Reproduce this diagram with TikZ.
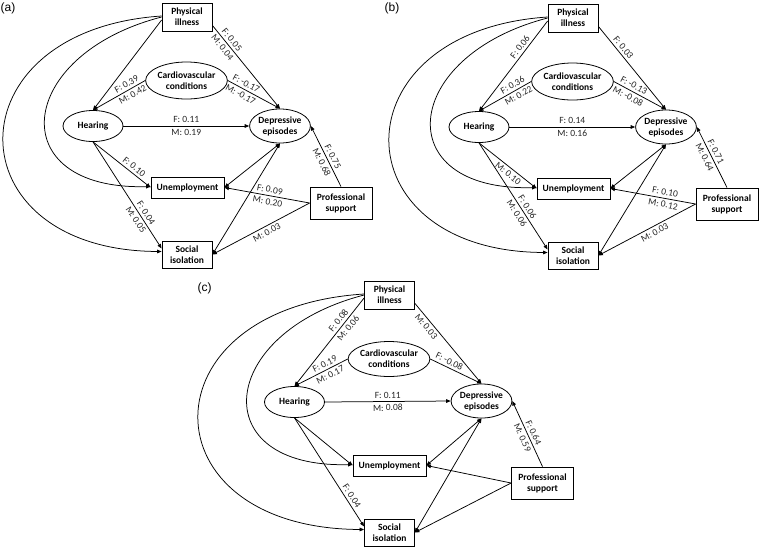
\documentclass[tikz,border=0pt]{standalone}
\usepackage{fontspec}
\setmainfont{Carlito}
\newfontfamily\panelfont{Liberation Sans}
\usetikzlibrary{arrows.meta,shapes.geometric}
\tikzset{
  box/.style={draw, line width=0.8pt, rectangle, inner sep=0pt, align=center,
    font=\fontsize{9.5}{11}\selectfont\bfseries},
  ell/.style={draw, line width=0.8pt, ellipse, inner sep=0pt, align=center,
    font=\fontsize{9.5}{11}\selectfont\bfseries},
  conn/.style={line width=0.75pt, -{Triangle[length=4.5pt,width=3.6pt]}},
  both/.style={line width=0.75pt, {Triangle[length=4.5pt,width=3.6pt]}-{Triangle[length=4.5pt,width=3.6pt]}},
  lab/.style={font=\fontsize{9.5}{11}\selectfont, text=black!85, inner sep=2.6pt, sloped},
  plab/.style={font=\panelfont\fontsize{12}{14}\selectfont, inner sep=0pt},
}
\begin{document}
\begin{tikzpicture}[x=1pt,y=-1pt]
\useasboundingbox (0,0) rectangle (764,550);
\fill[white] (0,0) rectangle (764,550);

% ---------------- panel (a) ----------------
\begin{scope}
\node[plab] (a-lab) at (8,8) {(a)};
\node[box, minimum width=50pt, minimum height=28pt] (a-pi) at (187,17) {Physical\\illness};
\node[ell, minimum width=73pt, minimum height=37pt] (a-cv) at (186.5,80.5) {Cardiovascular\\conditions};
\node[ell, minimum width=60pt, minimum height=31pt] (a-he) at (93,126) {Hearing};
\node[ell, minimum width=60pt, minimum height=34pt] (a-de) at (280,126) {Depressive\\episodes};
\node[box, minimum width=73pt, minimum height=21pt] (a-un) at (187.5,187.5) {Unemployment};
\node[box, minimum width=62pt, minimum height=32pt] (a-ps) at (341,203) {Professional\\support};
\node[box, minimum width=50pt, minimum height=27pt] (a-si) at (187,254.5) {Social\\isolation};

\draw[conn] ([yshift=-3pt]a-pi.west) -- (a-he.north);
\draw[conn] (a-cv.west) -- node[lab,above,pos=0.3]{F: 0.39} node[lab,below,pos=0.3]{M: 0.42} (a-he.north);
\draw[conn] ([yshift=6pt]a-pi.south east) -- node[lab,above,pos=0.22]{F: 0.05} node[lab,below,pos=0.22]{M: 0.04} (a-de.north);
\draw[conn] (a-cv.east) -- node[lab,above,pos=0.3]{F: -0.17} node[lab,below,pos=0.3]{M: -0.17} (a-de.north);
\draw[conn] (a-he.east) -- node[lab,above]{F: 0.11} node[lab,below]{M: 0.19} (a-de.west);
\draw[conn] (a-he.south) -- node[lab,above,pos=0.65]{F: 0.10} (a-un.west);
\draw[conn] (a-he.south) -- node[lab,above,pos=0.7]{F: 0.04} node[lab,below,pos=0.7]{M: 0.05} ([yshift=6pt]a-si.west);
\draw[conn] (a-pi.west) .. controls +(-147,38) and +(-149,4) .. ([yshift=1pt]a-un.west);
\draw[conn] ([yshift=1pt]a-pi.west) .. controls +(-212,14) and +(-210,-1) .. ([yshift=3pt]a-si.west);
\draw[both] (a-de.south) -- (a-un.east);
\draw[both] (a-de.south) -- (a-si.east);
\draw[conn] (a-ps.north) -- node[lab,above,pos=0.45]{F: 0.75} node[lab,below,pos=0.45]{M: 0.68} (a-de.east);
\draw[conn] (a-ps.west) -- node[lab,above,pos=0.48]{F: 0.09} node[lab,below,pos=0.48]{M: 0.20} (a-un.east);
\draw[conn] (a-ps.west) -- node[lab,below,pos=0.47]{M: 0.03} (a-si.east);
\end{scope}

% ---------------- panel (b) ----------------
\begin{scope}[shift={(386,1)}]
\node[plab] (b-lab) at (6,7) {(b)};
\node[box, minimum width=50pt, minimum height=28pt] (b-pi) at (187,17) {Physical\\illness};
\node[ell, minimum width=73pt, minimum height=37pt] (b-cv) at (186.5,80.5) {Cardiovascular\\conditions};
\node[ell, minimum width=60pt, minimum height=31pt] (b-he) at (93,126) {Hearing};
\node[ell, minimum width=60pt, minimum height=34pt] (b-de) at (280,126) {Depressive\\episodes};
\node[box, minimum width=73pt, minimum height=21pt] (b-un) at (187.5,187.5) {Unemployment};
\node[box, minimum width=62pt, minimum height=32pt] (b-ps) at (341,203) {Professional\\support};
\node[box, minimum width=50pt, minimum height=27pt] (b-si) at (187,254.5) {Social\\isolation};

\draw[conn] ([yshift=-3pt]b-pi.west) -- node[lab,above,pos=0.33]{F: 0.06} (b-he.north);
\draw[conn] (b-cv.west) -- node[lab,above,pos=0.3]{F: 0.36} node[lab,below,pos=0.3]{M: 0.22} (b-he.north);
\draw[conn] ([yshift=6pt]b-pi.south east) -- node[lab,above,pos=0.3]{F: 0.03} (b-de.north);
\draw[conn] (b-cv.east) -- node[lab,above,pos=0.33]{F: -0.13} node[lab,below,pos=0.33]{M: -0.08} (b-de.north);
\draw[conn] (b-he.east) -- node[lab,above]{F: 0.14} node[lab,below]{M: 0.16} (b-de.west);
\draw[conn] (b-he.south) -- node[lab,below,pos=0.57]{M: 0.10} (b-un.west);
\draw[conn] (b-he.south) -- node[lab,above,pos=0.63]{F: 0.06} node[lab,below,pos=0.63]{M: 0.06} ([yshift=6pt]b-si.west);
\draw[conn] (b-pi.west) .. controls +(-147,38) and +(-149,4) .. ([yshift=1pt]b-un.west);
\draw[conn] ([yshift=1pt]b-pi.west) .. controls +(-212,14) and +(-210,-1) .. ([yshift=3pt]b-si.west);
\draw[both] (b-de.south) -- (b-un.east);
\draw[both] (b-de.south) -- (b-si.east);
\draw[conn] (b-ps.north) -- node[lab,above,pos=0.55]{F: 0.71} node[lab,below,pos=0.55]{M: 0.64} (b-de.east);
\draw[conn] (b-ps.west) -- node[lab,above,pos=0.37]{F: 0.10} node[lab,below,pos=0.37]{M: 0.12} (b-un.east);
\draw[conn] (b-ps.west) -- node[lab,below,pos=0.45]{M: 0.03} (b-si.east);
\end{scope}

% ---------------- panel (c) ----------------
\begin{scope}[shift={(202.5,278)}]
\node[plab] (c-lab) at (2,10) {(c)};
\node[box, minimum width=50pt, minimum height=28pt] (c-pi) at (187,17) {Physical\\illness};
\node[ell, minimum width=73pt, minimum height=35pt] (c-cv) at (186.5,81) {Cardiovascular\\conditions};
\node[ell, minimum width=60pt, minimum height=31pt] (c-he) at (92,124) {Hearing};
\node[ell, minimum width=60pt, minimum height=34pt] (c-de) at (279,123) {Depressive\\episodes};
\node[box, minimum width=73pt, minimum height=21pt] (c-un) at (187,187.5) {Unemployment};
\node[box, minimum width=62pt, minimum height=32pt] (c-ps) at (340,205) {Professional\\support};
\node[box, minimum width=50pt, minimum height=27pt] (c-si) at (187,254.5) {Social\\isolation};

\draw[conn] ([yshift=-3pt]c-pi.west) -- node[lab,above,pos=0.3]{F: 0.08} node[lab,below,pos=0.3]{M: 0.06} (c-he.north);
\draw[conn] (c-cv.west) -- node[lab,above,pos=0.38]{F: 0.19} node[lab,below,pos=0.38]{M: 0.17} (c-he.north);
\draw[conn] ([yshift=6pt]c-pi.south east) -- node[lab,below,pos=0.24]{M: 0.03} (c-de.north);
\draw[conn] (c-cv.east) -- node[lab,above,pos=0.32]{F: -0.08} (c-de.north);
\draw[conn] (c-he.east) -- node[lab,above]{F: 0.11} node[lab,below]{M: 0.08} (c-de.west);
\draw[conn] (c-he.south) -- (c-un.west);
\draw[conn] (c-he.south) -- node[lab,above,pos=0.75]{F: 0.04} ([yshift=6pt]c-si.west);
\draw[conn] (c-pi.west) .. controls +(-147,38) and +(-149,4) .. ([yshift=1pt]c-un.west);
\draw[conn] ([yshift=1pt]c-pi.west) .. controls +(-222,14) and +(-220,-1) .. ([yshift=3pt]c-si.west);
\draw[both] (c-de.south) -- (c-un.east);
\draw[both] (c-de.south) -- (c-si.east);
\draw[conn] (c-ps.north) -- node[lab,above,pos=0.48]{F: 0.64} node[lab,below,pos=0.48]{M: 0.59} (c-de.east);
\draw[conn] (c-ps.west) -- (c-un.east);
\draw[conn] (c-ps.west) -- (c-si.east);
\end{scope}
\end{tikzpicture}
\end{document}
